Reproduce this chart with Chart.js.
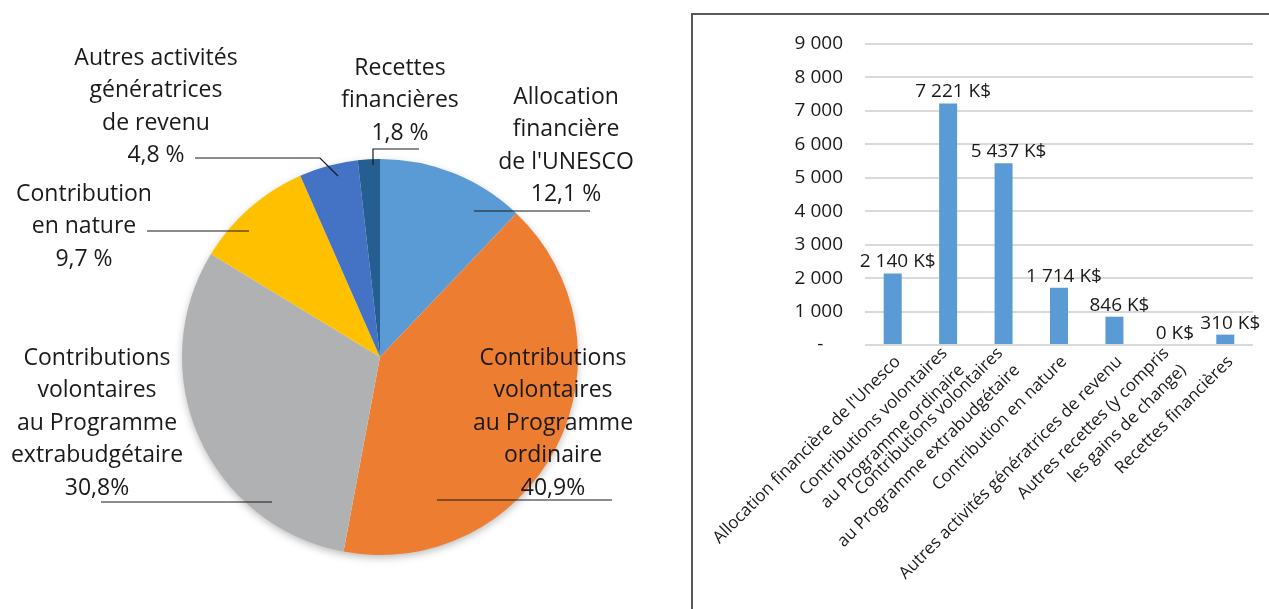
<!DOCTYPE html>
<html>
<head>
<meta charset="utf-8">
<script src="https://cdn.jsdelivr.net/npm/chart.js@4.4.1/dist/chart.umd.min.js"></script>
<style>
  body { margin: 0; background: #fff; overflow: hidden; }
  #pieWrap { position: absolute; left: 0; top: 0; width: 690px; height: 609px; }
  #barBox { position: absolute; left: 691px; top: 13px; width: 620px; height: 640px; border: 2px solid #595959; box-sizing: border-box; }
  #barWrap { position: absolute; left: 693px; top: 15px; width: 576px; height: 594px; }
</style>
</head>
<body>
<div id="pieWrap"><canvas id="pie-chart"></canvas></div>
<div id="barBox"></div>
<div id="barWrap"><canvas id="bar-chart"></canvas></div>
<script>
// données du camembert (répartition des recettes, %)
const pieLabels = [
  ['Allocation', 'financière', "de l'UNESCO"],
  ['Contributions', 'volontaires', 'au Programme', 'ordinaire'],
  ['Contributions', 'volontaires', 'au Programme', 'extrabudgétaire'],
  ['Contribution', 'en nature'],
  ['Autres activités', 'génératrices', 'de revenu'],
  ['Recettes', 'financières']
];
const pieValues = [12.1, 40.9, 30.8, 9.7, 4.8, 1.8];
const pieValueText = ['12,1 %', '40,9%', '30,8%', '9,7 %', '4,8 %', '1,8 %'];

// données du graphique en barres (K$)
const barLabels = [
  ["Allocation financière de l'Unesco"],
  ['Contributions volontaires', 'au Programme ordinaire'],
  ['Contributions volontaires', 'au Programme extrabudgétaire'],
  ['Contribution en nature'],
  ['Autres activités génératrices de revenu'],
  ['Autres recettes (y compris', 'les gains de change)'],
  ['Recettes financières']
];
const barValues = [2140, 7221, 5437, 1714, 846, 0, 310];

const FONT = '"Open Sans", "Noto Sans", sans-serif';
const pieColors = ['#5b9bd5', '#ed7d31', '#b0b1b3', '#ffc000', '#4472c4', '#255e91'];

// placement des étiquettes autour du camembert (relatif au centre)
const pieLabelLayout = [
  { x: 186, y: -260, line: [[94, -146], [210, -146]] },
  { x: 173, y: 1, line: [[57, 143], [232, 143]] },
  { x: -283, y: 1, line: [[-279, 145], [-108, 145]] },
  { x: -296, y: -163, line: [[-233, -126], [-131, -126]] },
  { x: -224, y: -299, line: [[-185, -199], [-60, -199], [-42, -181]] },
  { x: 20, y: -289, line: [[39, -208], [-7, -208], [-7, -192]] }
];

function formatK(v) {
  return v.toString().replace(/\B(?=(\d{3})+(?!\d))/g, ' ');
}

const pieShadow = {
  id: 'pieShadow',
  beforeDatasetsDraw(chart) {
    const arc = chart.getDatasetMeta(0).data[0];
    if (!arc) return;
    const ctx = chart.ctx;
    ctx.save();
    ctx.shadowColor = 'rgba(0,0,0,0.3)';
    ctx.shadowBlur = 9;
    ctx.shadowOffsetY = 3;
    ctx.fillStyle = '#fff';
    ctx.beginPath();
    ctx.arc(arc.x, arc.y, arc.outerRadius - 1, 0, Math.PI * 2);
    ctx.fill();
    ctx.restore();
  }
};

const pieLabelsPlugin = {
  id: 'pieLabelsPlugin',
  afterDraw(chart) {
    const ctx = chart.ctx;
    const meta = chart.getDatasetMeta(0);
    const cx = meta.data[0].x, cy = meta.data[0].y;
    ctx.save();
    ctx.font = '23px ' + FONT;
    ctx.fillStyle = '#1a1a1a';
    ctx.textAlign = 'center';
    ctx.textBaseline = 'middle';
    pieLabels.forEach((lines, i) => {
      const lay = pieLabelLayout[i];
      const all = lines.concat([pieValueText[i]]);
      all.forEach((t, j) => {
        ctx.fillText(t, cx + lay.x, cy + lay.y + j * 32.5);
      });
      ctx.strokeStyle = '#1a1a1a';
      ctx.lineWidth = 1.2;
      ctx.beginPath();
      lay.line.forEach((p, k) => {
        if (k === 0) ctx.moveTo(cx + p[0], cy + p[1]);
        else ctx.lineTo(cx + p[0], cy + p[1]);
      });
      ctx.stroke();
    });
    ctx.restore();
  }
};

new Chart(document.getElementById('pie-chart'), {
  type: 'pie',
  data: {
    labels: pieLabels.map(l => l.join(' ')),
    datasets: [{
      data: pieValues,
      backgroundColor: pieColors,
      borderWidth: 0
    }]
  },
  options: {
    responsive: true,
    maintainAspectRatio: false,
    animation: false,
    layout: { padding: { left: 182, right: 112, top: 159, bottom: 54 } },
    plugins: { legend: { display: false }, tooltip: { enabled: false } }
  },
  plugins: [pieShadow, pieLabelsPlugin]
});

const barValueLabels = {
  id: 'barValueLabels',
  afterDatasetsDraw(chart) {
    const ctx = chart.ctx;
    const meta = chart.getDatasetMeta(0);
    ctx.save();
    ctx.font = '19px ' + FONT;
    ctx.fillStyle = '#1a1a1a';
    ctx.textAlign = 'center';
    ctx.textBaseline = 'bottom';
    meta.data.forEach((bar, i) => {
      ctx.fillText(formatK(barValues[i]) + ' K$', bar.x + 5, bar.y - 2);
    });
    ctx.restore();
  }
};

// étiquettes de l'axe X, tournées à 45°, bloc centré sur la graduation
const xLabelsPlugin = {
  id: 'xLabelsPlugin',
  afterDraw(chart) {
    const ctx = chart.ctx;
    const xs = chart.scales.x;
    ctx.save();
    ctx.font = '17px ' + FONT;
    ctx.fillStyle = '#1a1a1a';
    ctx.textAlign = 'right';
    ctx.textBaseline = 'middle';
    barLabels.forEach((lines, i) => {
      const x = xs.getPixelForTick(i);
      ctx.save();
      ctx.translate(x + 5, xs.top + 14);
      ctx.rotate(-Math.PI / 4);
      lines.forEach((t, j) => {
        ctx.fillText(t, 0, (j - (lines.length - 1) / 2) * 24);
      });
      ctx.restore();
    });
    ctx.restore();
  }
};

new Chart(document.getElementById('bar-chart'), {
  type: 'bar',
  data: {
    labels: barLabels,
    datasets: [{
      data: barValues,
      backgroundColor: '#5b9bd5',
      categoryPercentage: 1,
      barPercentage: 0.325
    }]
  },
  options: {
    responsive: true,
    maintainAspectRatio: false,
    animation: false,
    layout: { padding: { left: 0, right: 16, top: 29, bottom: 0 } },
    plugins: { legend: { display: false }, tooltip: { enabled: false } },
    scales: {
      x: {
        grid: { display: false },
        border: { display: false },
        ticks: { display: false },
        afterFit(scale) {
          scale.height = 264;
          scale.paddingLeft = 0;
          scale.paddingRight = 0;
        }
      },
      y: {
        min: 0,
        max: 9000,
        grid: { color: '#d9d9d9', lineWidth: 2, tickLength: 0 },
        border: { display: false },
        ticks: {
          stepSize: 1000,
          padding: 22,
          color: '#1a1a1a',
          font: { family: FONT, size: 19 },
          callback: v => v === 0 ? '-    ' : formatK(v)
        },
        afterFit(scale) {
          scale.width = 172;
          scale.paddingTop = 0;
          scale.paddingBottom = 0;
        }
      }
    }
  },
  plugins: [barValueLabels, xLabelsPlugin]
});
</script>
</body>
</html>
